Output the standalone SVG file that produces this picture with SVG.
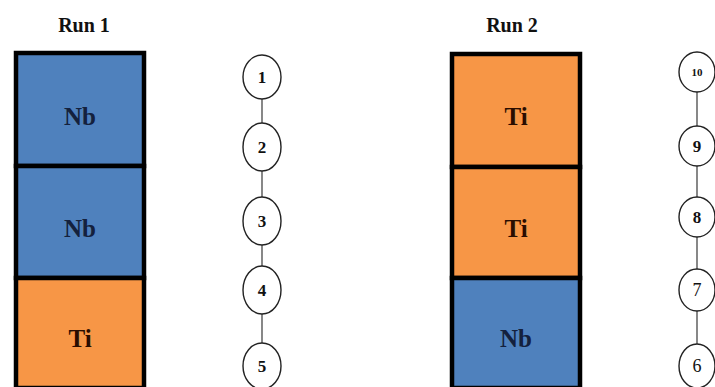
<svg xmlns="http://www.w3.org/2000/svg" width="715" height="387" viewBox="0 0 715 387">
<style>
.title{font-family:"Liberation Serif",serif;font-weight:bold;font-size:20px;fill:#111;text-anchor:middle}
.nb{fill:#4f81bd;stroke:#000;stroke-width:4.5}
.ti{fill:#f79646;stroke:#000;stroke-width:4.5}
.lnb{font-family:"Liberation Serif",serif;font-weight:bold;font-size:25px;fill:#14213d;text-anchor:middle}
.lti{font-family:"Liberation Serif",serif;font-weight:bold;font-size:25px;fill:#2a0d00;text-anchor:middle}
.c{fill:#fff;stroke:#222;stroke-width:1.4}
.n{font-family:"Liberation Serif",serif;font-weight:bold;font-size:17px;fill:#111;text-anchor:middle}
.conn line{stroke:#555;stroke-width:1.4}
</style>
<rect width="715" height="387" fill="#fff"/>
<text class="title" x="84" y="32">Run 1</text>
<text class="title" x="512" y="32">Run 2</text>
<g id="run1-box1"><rect class="nb" x="16" y="53" width="128" height="113"/><text class="lnb" x="80" y="125">Nb</text></g>
<g id="run1-box2"><rect class="nb" x="16" y="166" width="128" height="112"/><text class="lnb" x="80" y="237">Nb</text></g>
<g id="run1-box3"><rect class="ti" x="16" y="278" width="128" height="110"/><text class="lti" x="80" y="347">Ti</text></g>
<g id="run2-box1"><rect class="ti" x="452" y="54" width="128" height="113"/><text class="lti" x="516" y="125">Ti</text></g>
<g id="run2-box2"><rect class="ti" x="452" y="167" width="128" height="111"/><text class="lti" x="516" y="237">Ti</text></g>
<g id="run2-box3"><rect class="nb" x="452" y="278" width="128" height="110"/><text class="lnb" x="516" y="347">Nb</text></g>
<g class="conn" id="connectors">
<line x1="262" y1="99" x2="262" y2="123"/>
<line x1="262" y1="170" x2="262" y2="197"/>
<line x1="262" y1="245" x2="262" y2="267"/>
<line x1="262" y1="314" x2="262" y2="343"/>
<line x1="697" y1="91" x2="697" y2="126"/>
<line x1="697" y1="166" x2="697" y2="197"/>
<line x1="697" y1="237" x2="697" y2="270"/>
<line x1="697" y1="310" x2="697" y2="345"/>
</g>
<g id="n1"><ellipse class="c" cx="262" cy="77" rx="19" ry="22"/><text class="n" x="262" y="83">1</text></g>
<g id="n2"><ellipse class="c" cx="262" cy="147" rx="19" ry="24"/><text class="n" x="262" y="153">2</text></g>
<g id="n3"><ellipse class="c" cx="262" cy="221" rx="19" ry="24"/><text class="n" x="262" y="227">3</text></g>
<g id="n4"><ellipse class="c" cx="262" cy="290" rx="19" ry="24"/><text class="n" x="262" y="296">4</text></g>
<g id="n5"><ellipse class="c" cx="262" cy="366" rx="19" ry="23"/><text class="n" x="262" y="372">5</text></g>
<g id="n10"><ellipse class="c" cx="697" cy="72" rx="18" ry="20"/><text class="n" x="697" y="76" style="font-size:11px">10</text></g>
<g id="n9"><ellipse class="c" cx="697" cy="146" rx="18" ry="20"/><text class="n" x="697" y="152">9</text></g>
<g id="n8"><ellipse class="c" cx="697" cy="217" rx="18" ry="20"/><text class="n" x="697" y="223">8</text></g>
<g id="n7"><ellipse class="c" cx="697" cy="290" rx="18" ry="21"/><text class="n" x="697" y="296" style="font-weight:normal;font-size:18px">7</text></g>
<g id="n6"><ellipse class="c" cx="697" cy="366" rx="18" ry="22"/><text class="n" x="697" y="372" style="font-weight:normal;font-size:18px">6</text></g>
</svg>
